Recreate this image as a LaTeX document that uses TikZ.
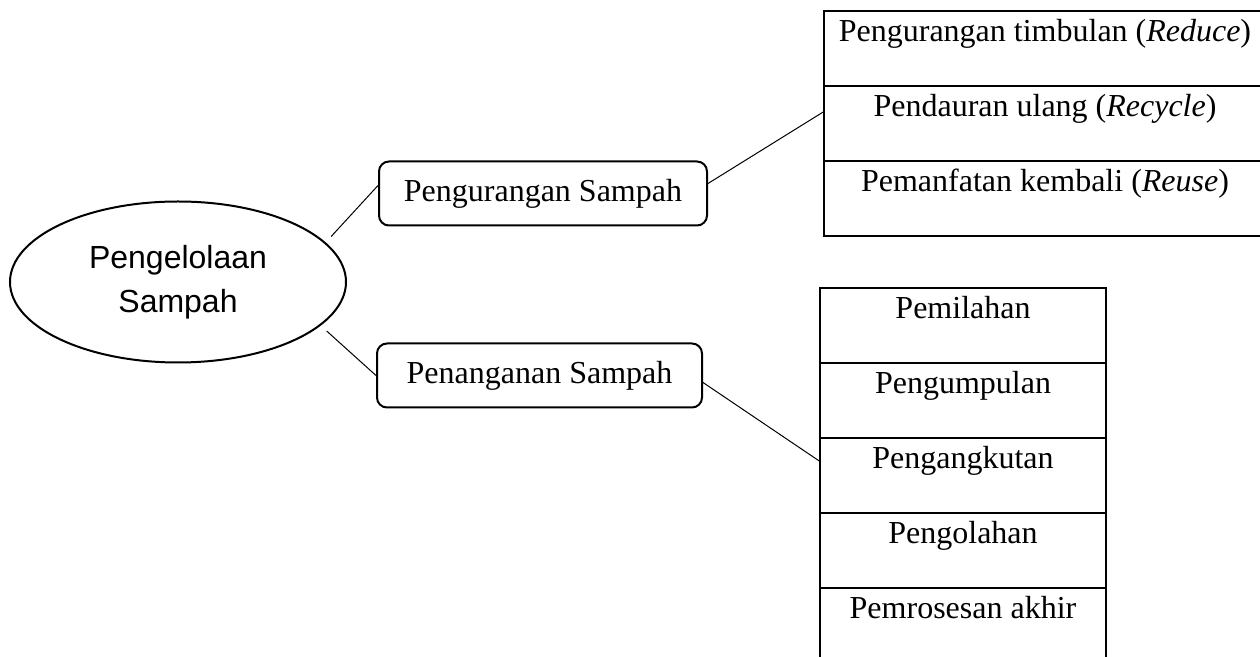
\documentclass[tikz,border=0pt]{standalone}
\usepackage{fontspec}
\setmainfont{Liberation Serif}
\newfontfamily\arialfont{Liberation Sans}
\usetikzlibrary{shapes.geometric,positioning}

\begin{document}
\begin{tikzpicture}[x=0.5pt,y=0.5pt,
  hub/.style={ellipse,draw,line width=1pt,minimum width=168pt,minimum height=80.5pt,
    inner sep=0pt,align=center,font=\arialfont\fontsize{16}{22}\selectfont},
  branch/.style={draw,rounded corners=5pt,line width=1pt,minimum height=32pt,
    inner sep=0pt,font=\fontsize{16}{19}\selectfont},
  cell/.style={draw,line width=1pt,inner sep=0pt,outer sep=0pt,text height=15.5pt,
    text depth=22pt,font=\fontsize{16}{19}\selectfont},
  link/.style={line width=0.5pt}]

  % fixed page frame (1260 x 657 px)
  \path[use as bounding box] (0,0) rectangle (1260,-657);

  % ---------------- centre ----------------
  \node[hub] (kelola) at (178,-282) {Pengelolaan\\Sampah};

  % ---------------- two branches ----------------
  \node[branch,minimum width=164pt]   (kurang) at (543,-193.5) {Pengurangan Sampah};
  \node[branch,minimum width=162.5pt] (tangan) at (539.5,-375.5) {Penanganan Sampah};

  % ---------------- table: pengurangan ----------------
  \node[cell,minimum width=221pt,anchor=north] (kurA) at (1045,-11) {Pengurangan timbulan (\textit{Reduce})};
  \node[cell,minimum width=221pt,below=0pt of kurA] (kurB) {Pendauran ulang (\textit{Recycle})};
  \node[cell,minimum width=221pt,below=0pt of kurB] (kurC) {Pemanfatan kembali (\textit{Reuse})};

  % ---------------- table: penanganan ----------------
  \node[cell,minimum width=143pt,anchor=north] (tanA) at (963,-288) {Pemilahan};
  \node[cell,minimum width=143pt,below=0pt of tanA] (tanB) {Pengumpulan};
  \node[cell,minimum width=143pt,below=0pt of tanB] (tanC) {Pengangkutan};
  \node[cell,minimum width=143pt,below=0pt of tanC] (tanD) {Pengolahan};
  \node[cell,minimum width=143pt,below=0pt of tanD] (tanE) {Pemrosesan akhir};

  % ---------------- connectors ----------------
  \draw[link,shorten <=4pt] (kelola.15) -- ([yshift=4pt]kurang.west);
  \draw[link,shorten <=4pt] (kelola.-17) -- (tangan.west);
  \draw[link] ([yshift=5pt]kurang.east) -- ([yshift=6pt]kurB.west);
  \draw[link] ([yshift=-3.5pt]tangan.east) -- ([yshift=7pt]tanC.west);

\end{tikzpicture}
\end{document}
